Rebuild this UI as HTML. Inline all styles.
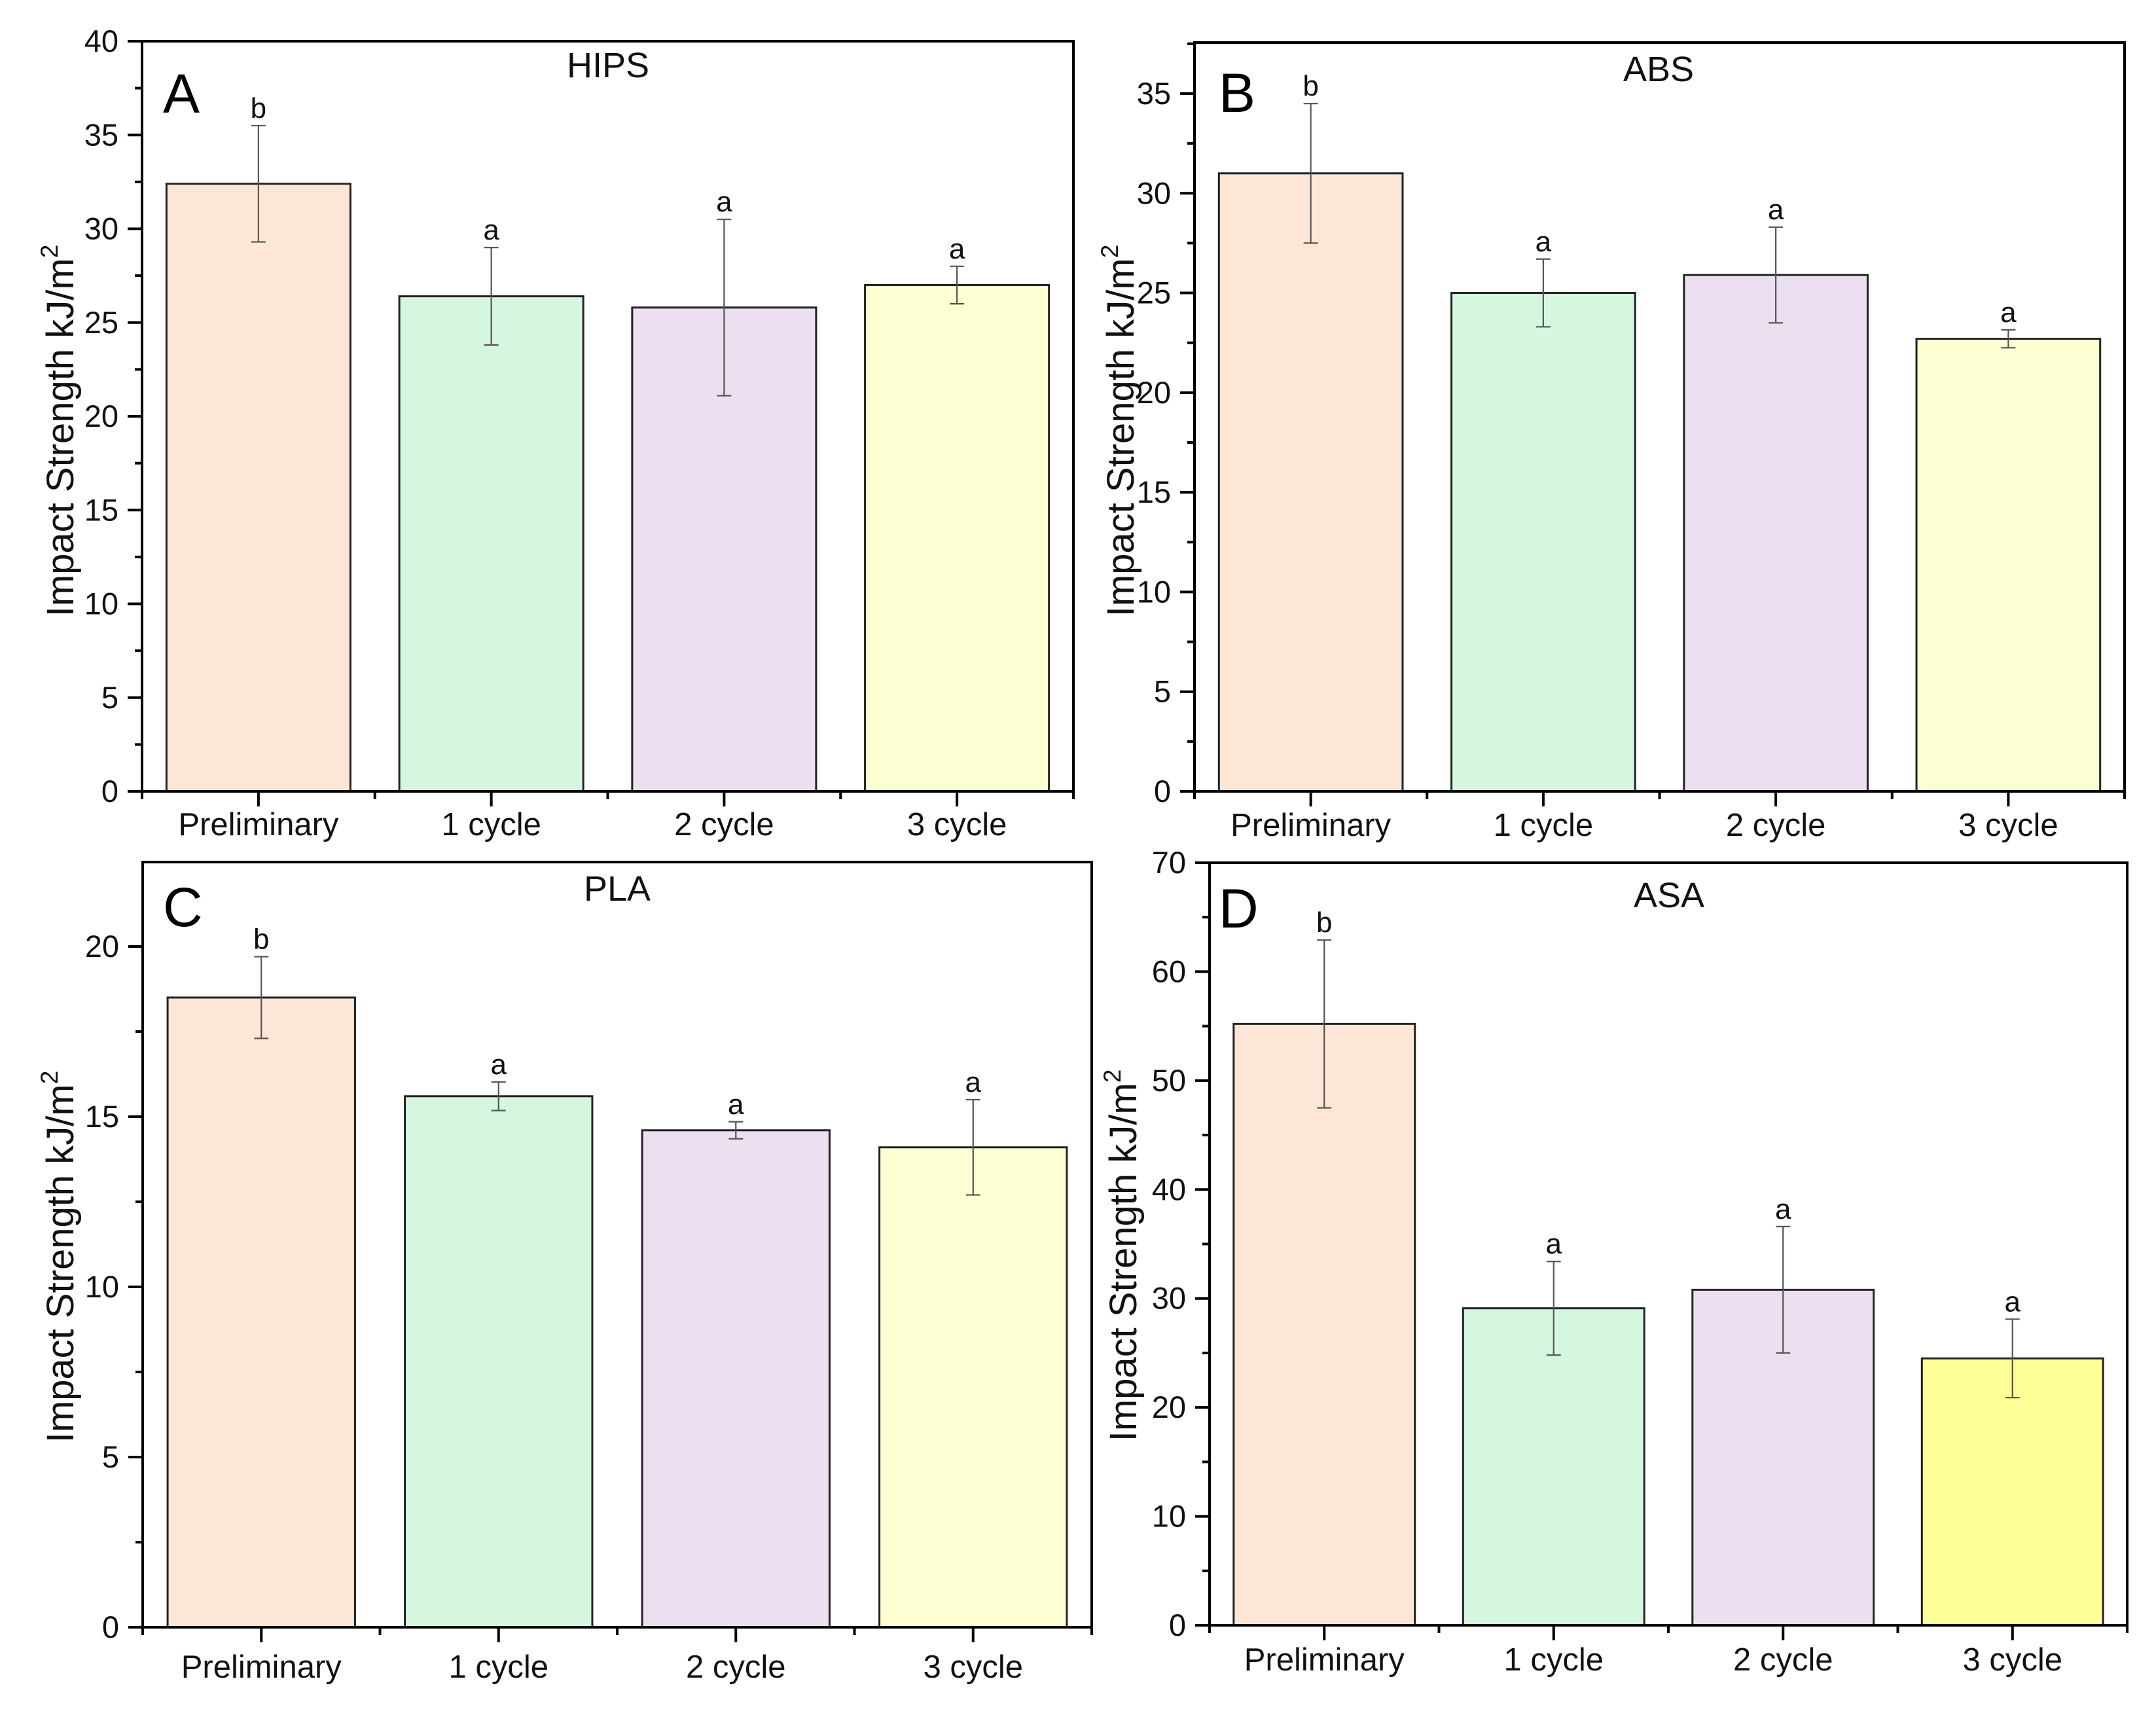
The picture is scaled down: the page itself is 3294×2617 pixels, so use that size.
<!DOCTYPE html>
<html><head><meta charset="utf-8"><style>
html,body{margin:0;padding:0;background:#fff;}
svg{display:block;font-family:"Liberation Sans",Arial,sans-serif;}
</style></head><body>
<svg id="fig" width="3294" height="2617" viewBox="0 0 3294 2617" xmlns="http://www.w3.org/2000/svg"></svg>
<script>
const categories = ["Preliminary","1 cycle","2 cycle","3 cycle"];
const hipsValues = [32.4, 26.4, 25.8, 27.0];
const hipsErrors = [3.1, 2.6, 4.7, 1.0];
const hipsLetters = ["b","a","a","a"];
const absValues = [31.0, 25.0, 25.9, 22.7];
const absErrors = [3.5, 1.7, 2.4, 0.45];
const absLetters = ["b","a","a","a"];
const plaValues = [18.5, 15.6, 14.6, 14.1];
const plaErrors = [1.2, 0.42, 0.25, 1.4];
const plaLetters = ["b","a","a","a"];
const asaValues = [55.2, 29.1, 30.8, 24.5];
const asaErrors = [7.7, 4.3, 5.8, 3.6];
const asaLetters = ["b","a","a","a"];
const hipsTicks = [0,5,10,15,20,25,30,35,40];
const absTicks = [0,5,10,15,20,25,30,35];
const plaTicks = [0,5,10,15,20];
const asaTicks = [0,10,20,30,40,50,60,70];

const NS="http://www.w3.org/2000/svg";
const svg=document.getElementById('fig');
function mk(tag,attrs,parent,text){const e=document.createElementNS(NS,tag);for(const k in attrs)e.setAttribute(k,attrs[k]);if(text!==undefined)e.textContent=text;(parent||svg).appendChild(e);return e;}

const panels=[
 {id:'hips',title:'HIPS',letter:'A',vals:hipsValues,errs:hipsErrors,lets:hipsLetters,ticks:hipsTicks,ymax:40,minor:2.5,
  x0:217,x1:1640,yTop:63,yBot:1209,fills:['#fde6d6','#d5f6df','#ebdff0','#fefed3'],
  titleX:929,titleY:118,letX:249,letY:172,ylabX:92,ylabY:638,xlabY:1276},
 {id:'abs',title:'ABS',letter:'B',vals:absValues,errs:absErrors,lets:absLetters,ticks:absTicks,ymax:37.56,minor:2.5,
  x0:1825,x1:3246,yTop:65,yBot:1209,fills:['#fde6d6','#d5f6df','#ebdff0','#fefed3'],
  titleX:2534,titleY:124,letX:1862,letY:171,ylabX:1712,ylabY:638,xlabY:1277},
 {id:'pla',title:'PLA',letter:'C',vals:plaValues,errs:plaErrors,lets:plaLetters,ticks:plaTicks,ymax:22.48,minor:2.5,
  x0:218,x1:1668,yTop:1317,yBot:2486,fills:['#fde6d6','#d5f6df','#ebdff0','#fefed3'],
  titleX:943,titleY:1376,letX:249,letY:1415,ylabX:92,ylabY:1900,xlabY:2563},
 {id:'asa',title:'ASA',letter:'D',vals:asaValues,errs:asaErrors,lets:asaLetters,ticks:asaTicks,ymax:70,minor:5,
  x0:1848,x1:3250,yTop:1318,yBot:2483,fills:['#fde6d6','#d5f6df','#ebdff0','#fefe99'],
  titleX:2550,titleY:1386,letX:1862,letY:1417,ylabX:1716,ylabY:1898,xlabY:2552}
];

panels.forEach(p=>{
  const g=mk('g',{});
  
  
  const y=v=>p.yBot-(v/p.ymax)*(p.yBot-p.yTop);
  const step=(p.x1-p.x0)/categories.length;
  const cx=i=>p.x0+step*(i+0.5);
  const bw=step*0.79;
  p.vals.forEach((v,i)=>{
    const r=mk('rect',{x:cx(i)-bw/2,y:y(v),width:bw,height:p.yBot-y(v),fill:p.fills[i],stroke:'#222','stroke-width':3},g);
    
    
    const hi=y(v+p.errs[i]),lo=y(v-p.errs[i]);
    const eb=mk('g',{stroke:'#555','stroke-width':2.2},g);
    
    
    mk('line',{x1:cx(i),x2:cx(i),y1:hi,y2:lo},eb);
    mk('line',{x1:cx(i)-11,x2:cx(i)+11,y1:hi,y2:hi},eb);
    mk('line',{x1:cx(i)-11,x2:cx(i)+11,y1:lo,y2:lo},eb);
    const t=mk('text',{x:cx(i),y:hi-12,'font-size':44,'text-anchor':'middle',fill:'#111'},g,p.lets[i]);
    
    
  });
  const fr=mk('rect',{x:p.x0,y:p.yTop,width:p.x1-p.x0,height:p.yBot-p.yTop,fill:'none',stroke:'#000','stroke-width':4},g);
  
  
  const ya=mk('g',{},g);
  
  
  p.ticks.forEach(t=>{
    mk('line',{x1:p.x0-22,x2:p.x0,y1:y(t),y2:y(t),stroke:'#000','stroke-width':4},ya);
    mk('text',{x:p.x0-36,y:y(t)+16,'font-size':47,'text-anchor':'end',fill:'#111'},ya,String(t));
    const m=t+p.minor;
    if(m<p.ymax) mk('line',{x1:p.x0-11,x2:p.x0,y1:y(m),y2:y(m),stroke:'#000','stroke-width':4},ya);
  });
  const xa=mk('g',{},g);
  
  
  for(let i=0;i<=categories.length;i++){
    const xx=p.x0+step*i;
    mk('line',{x1:xx,x2:xx,y1:p.yBot,y2:p.yBot+12,stroke:'#000','stroke-width':4},xa);
  }
  categories.forEach((c,i)=>{
    mk('line',{x1:cx(i),x2:cx(i),y1:p.yBot,y2:p.yBot+23,stroke:'#000','stroke-width':4},xa);
    mk('text',{x:cx(i),y:p.xlabY,'font-size':49,'text-anchor':'middle',fill:'#111'},xa,c);
  });
  const tt=mk('text',{x:p.titleX,y:p.titleY,'font-size':54,'text-anchor':'middle',fill:'#111'},g,p.title);
  
  
  const lt=mk('text',{x:p.letX,y:p.letY,'font-size':84,fill:'#000'},g,p.letter);
  
  
  const yl=mk('text',{x:p.ylabX,y:p.ylabY,'font-size':58,'text-anchor':'middle',fill:'#111',transform:'rotate(-90 '+(p.ylabX+20)+' '+p.ylabY+')'},g);
  
  
  yl.textContent='Impact Strength kJ/m';
  mk('tspan',{'font-size':37,dy:-24},yl,'2');
});
</script>
</body></html>
